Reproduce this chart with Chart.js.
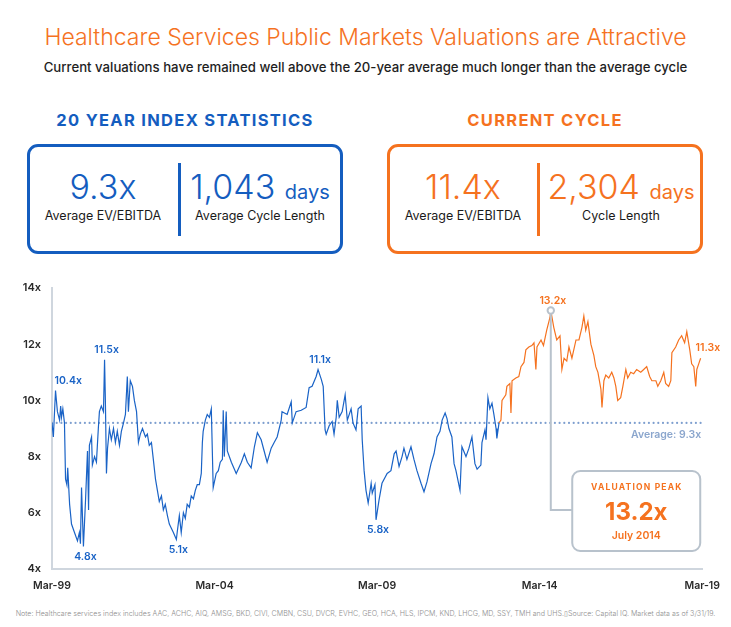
<!DOCTYPE html>
<html>
<head>
<meta charset="utf-8">
<script src="https://cdn.jsdelivr.net/npm/chart.js@4.4.1/dist/chart.umd.min.js"></script>
<style>
  html, body { margin: 0; padding: 0; background: #fff; }
  body { width: 731px; height: 627px; position: relative; overflow: hidden; font-family: Inter, "Open Sans", sans-serif; }
  .abs { position: absolute; white-space: nowrap; }
  .title { left: 0; width: 731px; top: 23px; line-height: 28px; font-size: 23px; text-align: center; color: #f5721f; font-weight: 300; }
  .sub { left: 0; width: 731px; top: 58px; line-height: 18px; font-size: 13.2px; text-align: center; color: #1e1e1e; font-weight: 500; }
  .head { top: 110px; line-height: 20px; font-size: 16.5px; font-weight: 700; letter-spacing: 1.3px; text-align: center; width: 316px; }
  .box { top: 144px; width: 316px; height: 110px; box-sizing: border-box; border: 3px solid; border-radius: 11px; }
  .big { top: 167px; line-height: 40px; font-size: 34px; font-weight: 300; text-align: center; width: 160px; }
  .big span { font-size: 20px; font-weight: 400; }
  .lbl { top: 208px; line-height: 16px; font-size: 12.5px; color: #1a1a1a; text-align: center; width: 160px; }
  .div { top: 163px; width: 3px; height: 73px; }
  .note { left: 0; width: 731px; top: 608px; line-height: 12px; font-size: 7.1px; text-align: center; color: #8e8e8e; font-weight: 300; }
  #wrap { position: absolute; left: 0; top: 270px; width: 731px; height: 330px; }
</style>
</head>
<body>
<div class="abs title">Healthcare Services Public Markets Valuations are Attractive</div>
<div class="abs sub">Current valuations have remained well above the 20-year average much longer than the average cycle</div>

<div class="abs head" style="left:27px;color:#145dbf">20 YEAR INDEX STATISTICS</div>
<div class="abs head" style="left:387px;color:#f5721f">CURRENT CYCLE</div>

<div class="abs box" style="left:27px;border-color:#145dbf"></div>
<div class="abs big" style="left:23px;color:#145dbf">9.3x</div>
<div class="abs lbl" style="left:23px">Average EV/EBITDA</div>
<div class="abs div" style="left:178px;background:#145dbf"></div>
<div class="abs big" style="left:180px;color:#145dbf">1,043 <span>days</span></div>
<div class="abs lbl" style="left:180px">Average Cycle Length</div>

<div class="abs box" style="left:387px;border-color:#f5721f"></div>
<div class="abs big" style="left:383px;color:#f5721f">11.4x</div>
<div class="abs lbl" style="left:383px">Average EV/EBITDA</div>
<div class="abs div" style="left:537px;background:#f5721f"></div>
<div class="abs big" style="left:541px;color:#f5721f">2,304 <span>days</span></div>
<div class="abs lbl" style="left:541px">Cycle Length</div>

<div id="wrap"><canvas id="valChart"></canvas></div>

<div class="abs note">Note: Healthcare services index includes AAC, ACHC, AIQ, AMSG, BKD, CIVI, CMBN, CSU, DVCR, EVHC, GEO, HCA, HLS, IPCM, KND, LHCG, MD, SSY, TMH and UHS.&#9647;Source: Capital IQ. Market data as of 3/31/19.</div>

<script>
// ---------------------------------------------------------------
// Data (x = months since Mar-99, y = EV/EBITDA multiple)
// ---------------------------------------------------------------
var tickLabels = ['Mar-99', 'Mar-04', 'Mar-09', 'Mar-14', 'Mar-19'];
var averageMultiple = 9.2;
var averageLabel = 'Average: 9.3x';
var cycleStartMonth = 165;

var blueMonths = [
  0, 0.5, 1.3, 2, 2.8, 3.2, 3.5, 4, 4.6, 5,
  5.5, 5.8, 6.5, 7.2, 8.3, 9.4, 10.1, 10.5, 10.9, 11.6,
  12.4, 13.1, 13.5, 13.8, 14.6, 14.9, 15.7, 16.4, 17.1, 17.5,
  18.2, 19, 19.4, 19.7, 20.1, 20.5, 21.2, 21.9, 22.7, 23.4,
  24.1, 24.9, 25.6, 26.4, 27.1, 27.8, 28.2, 28.9, 29.7, 30.4,
  31.2, 31.9, 32.6, 33.4, 34.5, 35.2, 35.9, 36.7, 37.4, 38.2,
  38.9, 39.6, 40.4, 41.1, 41.8, 42.6, 43.3, 44.8, 45.9, 46.2,
  47, 47.7, 48.5, 49.2, 49.9, 50.7, 51.4, 52.2, 52.9, 53.6,
  54.4, 55.1, 55.5, 55.8, 56.6, 57.3, 58.1, 58.8, 59.5, 60.6,
  61.4, 62.1, 62.9, 63.2, 63.6, 64.3, 64.7, 66.2, 68, 69.9,
  71, 72.1, 73.5, 74.7, 75.8, 77.2, 78.3, 79.4, 80.9, 82,
  83.1, 84.6, 84.9, 86.8, 88.3, 88.7, 90.1, 92, 93.8, 94.9,
  96, 97.5, 98.2, 99.4, 100.1, 100.8, 101.2, 102.3, 103.4, 104.1,
  104.9, 105.3, 106, 107.1, 108.2, 109, 110.4, 111.1, 112.2, 113,
  114.1, 114.5, 115.2, 115.9, 116.7, 117.8, 118.2, 119.2, 119.6, 120.7,
  121.8, 123.7, 125.1, 126.3, 127, 128.1, 129.2, 129.9, 131, 132.5,
  133.6, 134.7, 136.2, 137.3, 138.4, 139.9, 141, 142.1, 143.2, 144,
  145.1, 145.8, 146.5, 147.6, 148.4, 149.1, 150.6, 151.3, 152.8, 153.9,
  155, 156.1, 156.9, 158.3, 158.7, 159.8, 160.2, 160.9, 161.6, 162.4,
  163.1, 163.9, 164.2, 165
];
var blueValues = [
  9.2, 8.7, 10.35, 9.6, 9.3, 9.8, 9.4, 9.7, 9.2, 7.2,
  7.0, 7.6, 6.3, 5.6, 5.3, 5.0, 5.3, 4.9, 6.9, 4.8,
  6.5, 8.2, 6.1, 8.4, 8.7, 7.7, 8.0, 7.8, 9.0, 9.6,
  9.8, 9.6, 11.45, 10.0, 7.4, 8.3, 9.0, 8.6, 9.0, 8.5,
  8.9, 8.4, 8.9, 9.2, 9.5, 10.85, 9.6, 10.7, 10.5, 10.0,
  9.6, 8.5, 8.8, 9.0, 8.7, 8.8, 8.4, 8.5, 7.9, 7.2,
  6.8, 6.4, 6.6, 6.1, 6.3, 5.9, 5.6, 5.3, 5.05, 5.3,
  5.9, 5.3, 6.0, 5.8, 6.3, 6.2, 6.6, 6.5, 6.8, 7.0,
  7.0, 7.4, 8.5, 8.9, 9.3, 9.5, 9.4, 9.7, 6.9, 7.4,
  7.5, 7.8, 7.9, 9.65, 8.0, 9.6, 8.2, 7.8, 7.4, 7.8,
  8.1, 7.8, 7.6, 8.35, 8.85, 8.6, 8.2, 7.8, 8.3, 8.5,
  8.7, 9.3, 9.6, 9.5, 9.95, 9.2, 9.6, 9.65, 9.75, 10.45,
  10.5, 10.85, 11.1, 10.75, 10.5, 8.95, 8.8, 9.1, 9.25, 8.8,
  9.4, 10.0, 9.4, 9.6, 10.2, 9.3, 9.7, 9.2, 8.95, 9.7,
  9.8, 8.6, 7.5, 6.8, 6.35, 7.05, 6.7, 7.0, 5.75, 6.45,
  7.05, 7.4, 7.5, 8.1, 8.2, 7.65, 8.0, 8.3, 7.9, 8.35,
  7.9, 7.5, 7.05, 6.75, 7.1, 7.75, 8.1, 8.7, 8.9, 9.3,
  9.55, 9.35, 9.0, 8.7, 7.75, 7.5, 6.8, 8.35, 8.0, 8.3,
  8.7, 7.75, 7.55, 7.7, 8.5, 8.95, 8.6, 10.1, 9.7, 9.9,
  9.5, 9.0, 8.65, 9.2
];

var orangeMonths = [
  165, 165.7, 166.1, 167.5, 167.9, 169, 169.4, 169.8, 171.2, 172.3,
  173.1, 174.2, 174.9, 176, 177.1, 177.9, 178.6, 179, 180.5, 181.4,
  182.6, 183.8, 184.1, 185.2, 186.3, 187.5, 188.2, 189, 190, 190.8,
  191.9, 193.4, 194.5, 195.6, 196.3, 197, 197.8, 198.9, 200, 200.7,
  201.5, 202.6, 203, 203.7, 204.4, 205.5, 206.6, 207.4, 208.1, 208.8,
  209.9, 210.7, 211.8, 212.5, 213.6, 214.7, 215.8, 217.3, 218.4, 219.5,
  220.6, 221.4, 222.9, 223.6, 224.7, 225.8, 226.5, 227.6, 228.4, 228.8,
  230.2, 231.3, 232.4, 233.5, 234.3, 235.4, 236.1, 236.9, 237.6, 238,
  238.7, 239.4
];
var orangeValues = [
  9.2, 9.3, 10.0, 10.2, 10.5, 10.6, 9.55, 10.7, 10.8, 10.85,
  11.2, 11.35, 11.8, 11.9, 11.95, 12.05, 11.1, 11.9, 12.15, 11.95,
  12.5, 12.95, 13.2, 12.6, 12.15, 12.3, 11.1, 11.5, 11.4, 11.9,
  11.5, 12.15, 12.15, 12.6, 13.0, 12.5, 12.8, 12.0, 11.6, 11.2,
  11.0, 10.4, 9.75, 10.7, 10.9, 10.8, 11.0, 10.8, 10.5, 10.0,
  10.1, 10.5, 11.1, 10.8, 11.0, 10.95, 11.1, 11.0, 11.1, 11.2,
  10.85, 10.7, 10.7, 10.5, 10.7, 11.0, 10.6, 10.5, 10.7, 11.7,
  11.9, 12.15, 12.3, 12.05, 12.45, 11.8, 11.3, 11.2, 10.5, 11.1,
  11.3, 11.5
];

// labelled highs / lows on the line
var calloutMonths = [1.3, 19.4, 11.6, 45.9, 98.2, 119.6, 184.1, 239.4];
var calloutValues = [10.35, 11.45, 4.8, 5.05, 11.1, 5.75, 13.2, 11.5];
var calloutTexts = ['10.4x', '11.5x', '4.8x', '5.1x', '11.1x', '5.8x', '13.2x', '11.3x'];

var peakMonth = 184.1;
var peakValue = 13.2;
var peakTitle = 'VALUATION PEAK';
var peakText = '13.2x';
var peakDate = 'July 2014';

// ---------------------------------------------------------------
var BLUE = '#1a63c6';
var ORANGE = '#f5721f';
var GREY = '#b8c2cc';

function zipPoints(xs, ys) {
  return xs.map(function (m, i) { return { x: m, y: ys[i] }; });
}

var annotationPlugin = {
  id: 'annotations',
  afterDatasetsDraw: function (chart) {
    var ctx = chart.ctx, xs = chart.scales.x, ys = chart.scales.y, area = chart.chartArea;
    ctx.save();

    // average label
    ctx.font = '600 10.5px Inter';
    ctx.fillStyle = '#8ba6cd';
    ctx.textAlign = 'right';
    ctx.textBaseline = 'middle';
    ctx.fillText(averageLabel, area.right - 1, ys.getPixelForValue(averageMultiple) + 12);

    // peak connector and box
    var px = xs.getPixelForValue(peakMonth), py = ys.getPixelForValue(peakValue);
    var bRight = area.right - 2, bLeft = bRight - 128;
    var bBottom = area.bottom - 18, bTop = bBottom - 80;
    var joinY = bTop + 39;
    ctx.strokeStyle = GREY;
    ctx.lineWidth = 2;
    ctx.beginPath();
    ctx.moveTo(px, py + 3.5);
    ctx.lineTo(px, joinY);
    ctx.lineTo(bLeft, joinY);
    ctx.stroke();
    ctx.beginPath();
    ctx.arc(px, py, 3.2, 0, Math.PI * 2);
    ctx.fillStyle = '#fff';
    ctx.fill();
    ctx.stroke();

    ctx.beginPath();
    ctx.roundRect(bLeft, bTop, bRight - bLeft, bBottom - bTop, 8);
    ctx.fillStyle = '#fff';
    ctx.fill();
    ctx.stroke();

    var cx = (bLeft + bRight) / 2;
    ctx.fillStyle = ORANGE;
    ctx.textAlign = 'center';
    ctx.letterSpacing = '1.2px';
    ctx.font = '700 8.5px Inter';
    ctx.fillText(peakTitle, cx + 0.6, bTop + 16);
    ctx.letterSpacing = '0px';
    ctx.font = '700 24px Inter';
    ctx.fillText(peakText, cx, bTop + 42);
    ctx.font = '600 10.5px Inter';
    ctx.fillText(peakDate, cx, bTop + 65);

    // point labels
    ctx.font = '600 10.5px Inter';
    calloutMonths.forEach(function (m, i) {
      var x = xs.getPixelForValue(m), y = ys.getPixelForValue(calloutValues[i]);
      var above = calloutValues[i] > averageMultiple;
      ctx.fillStyle = m >= cycleStartMonth ? ORANGE : BLUE;
      if (i === 0 || i === calloutMonths.length - 1) {
        ctx.textAlign = 'left';
        x += (i === 0 ? -1 : -5);
      } else {
        ctx.textAlign = 'center';
        x += 2;
      }
      ctx.fillText(calloutTexts[i], x, above ? y - 10 : y + 10);
    });
    ctx.restore();
  }
};

Chart.defaults.font.family = 'Inter';

new Chart(document.getElementById('valChart'), {
  type: 'line',
  data: {
    datasets: [
      { data: zipPoints(blueMonths, blueValues), borderColor: BLUE, borderWidth: 1.2, pointRadius: 0, tension: 0 },
      { data: zipPoints(orangeMonths, orangeValues), borderColor: ORANGE, borderWidth: 1.2, pointRadius: 0, tension: 0 },
      {
        data: [{ x: 0, y: averageMultiple }, { x: 240, y: averageMultiple }],
        borderColor: '#7e9fcf', borderWidth: 2.2, borderDash: [0, 4.7], borderCapStyle: 'round',
        pointRadius: 0
      }
    ]
  },
  options: {
    responsive: true,
    maintainAspectRatio: false,
    animation: false,
    layout: { padding: { top: 18, right: 26, bottom: 0, left: 0 } },
    plugins: { legend: { display: false }, tooltip: { enabled: false } },
    scales: {
      x: {
        type: 'linear', min: 0, max: 240,
        grid: { display: false, drawTicks: false },
        border: { display: true, color: '#cfd6de', width: 2 },
        afterFit: function (s) { s.height = 31; },
        ticks: {
          stepSize: 60, padding: 11, color: '#2a2a2a', font: { size: 10.5, weight: '600' },
          maxRotation: 0,
          callback: function (v) { return tickLabels[v / 60]; }
        }
      },
      y: {
        min: 4, max: 14,
        grid: { display: false, drawTicks: false },
        border: { display: true, color: '#cfd6de', width: 2 },
        afterFit: function (s) { s.width = 52; },
        ticks: {
          stepSize: 2, padding: 11, color: '#2a2a2a', font: { size: 11, weight: '600' },
          callback: function (v) { return v + 'x'; }
        }
      }
    }
  },
  plugins: [annotationPlugin]
});
</script>
</body>
</html>
